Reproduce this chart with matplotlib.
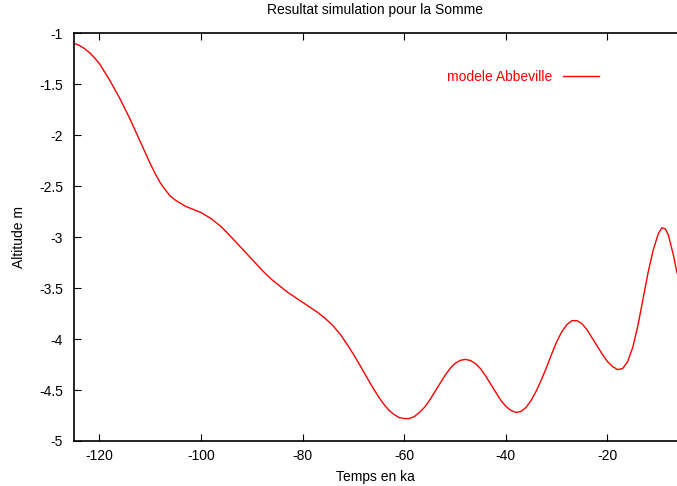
import numpy as np
import matplotlib.pyplot as plt

plt.rcParams['font.family'] = ['Liberation Sans', 'DejaVu Sans']
plt.rcParams['axes.unicode_minus'] = False

# temps (ka) et altitude (m)
temps = [-125, -124, -123, -122, -121, -120, -119, -118, -117, -116, -115,
         -114, -113, -112, -111, -110, -109, -108, -107, -106, -105, -104,
         -103, -102, -101, -100, -99, -98, -97, -96, -95, -93.5, -92, -90.5,
         -89, -87.5, -86, -84.5, -83, -81.5, -80, -78.5, -77, -75.5, -74,
         -72.5, -71, -69.5, -68, -66.5, -65, -64, -63, -62, -61, -60, -59,
         -58, -57, -56, -55, -54, -53, -52, -51, -50, -49, -48, -47, -46, -45,
         -44, -43, -42, -41, -40, -39, -38, -37, -36, -35, -34, -33, -32, -31,
         -30, -29, -28, -27, -26, -25, -24, -23, -22, -21, -20, -19, -18, -17,
         -16, -15, -14, -13, -12, -11, -10, -9.3, -8.6, -8, -7.5, -7, -6.3]
altitude = [-1.10, -1.12, -1.15, -1.19, -1.24, -1.30, -1.38, -1.46, -1.55, -1.64,
            -1.74, -1.84, -1.95, -2.06, -2.17, -2.28, -2.38, -2.47, -2.54, -2.60,
            -2.64, -2.67, -2.70, -2.72, -2.74, -2.76, -2.79, -2.82, -2.86, -2.90,
            -2.95, -3.03, -3.11, -3.19, -3.27, -3.35, -3.42, -3.48, -3.54, -3.59,
            -3.64, -3.69, -3.74, -3.80, -3.87, -3.96, -4.07, -4.19, -4.32, -4.45,
            -4.57, -4.64, -4.70, -4.74, -4.77, -4.78, -4.78, -4.76, -4.72, -4.67,
            -4.60, -4.52, -4.44, -4.36, -4.29, -4.24, -4.21, -4.20, -4.21, -4.24,
            -4.29, -4.36, -4.44, -4.52, -4.60, -4.66, -4.70, -4.72, -4.71, -4.67,
            -4.60, -4.51, -4.40, -4.28, -4.15, -4.03, -3.93, -3.86, -3.82, -3.82,
            -3.85, -3.91, -3.99, -4.07, -4.15, -4.22, -4.27, -4.30, -4.29, -4.22,
            -4.08, -3.87, -3.61, -3.35, -3.13, -2.97, -2.91, -2.92, -2.98, -3.08,
            -3.18, -3.35]

fig = plt.figure(figsize=(6.77, 4.86), dpi=100)
ax = fig.add_axes([0.1093, 0.0926, 0.8907, 0.8394])

ax.plot(temps, altitude, color='red', lw=1.0, label='modele Abbeville')

ax.set_xlim(-125, -6.3)
ax.set_ylim(-5, -1)
ax.set_xticks([-120, -100, -80, -60, -40, -20])
ax.set_yticks([-5, -4.5, -4, -3.5, -3, -2.5, -2, -1.5, -1])
ax.set_yticklabels(['-5', '-4.5', '-4', '-3.5', '-3', '-2.5', '-2', '-1.5', '-1'])
ax.tick_params(direction='in', top=True, right=False, labelsize=10, length=5)
ax.tick_params(axis='x', pad=6)
ax.tick_params(axis='y', pad=8)
ax.spines['right'].set_visible(False)
for s in ['left', 'bottom', 'top']:
    ax.spines[s].set_linewidth(1.2)

ax.set_title('Resultat simulation pour la Somme', fontsize=10, pad=14)
ax.set_xlabel('Temps en ka', fontsize=10, labelpad=5)
ax.set_ylabel('Altitude m', fontsize=10, labelpad=9)

ax.legend(loc='upper right', bbox_to_anchor=(0.892, 0.94), frameon=False,
          markerfirst=False, labelcolor='red', fontsize=10, handlelength=2.6)

fig.savefig('out.png', dpi=100)
